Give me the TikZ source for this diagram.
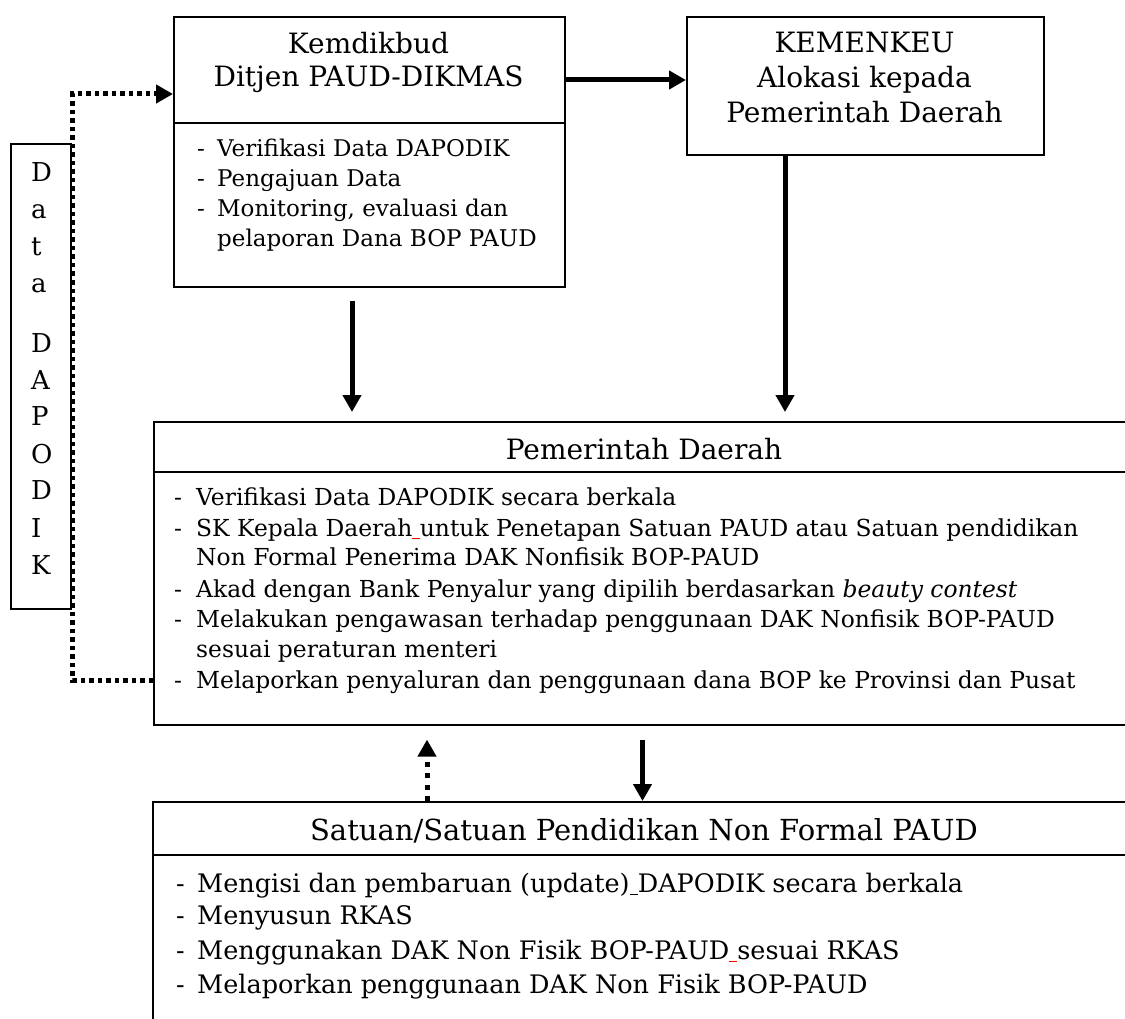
\documentclass[tikz,border=0pt]{standalone}
\usepackage{fontspec}
\setmainfont{DejaVu Serif}
\usetikzlibrary{arrows.meta}
\newcommand\gapline[1]{\textcolor{#1}{\rule[-3pt]{0.32em}{1.2pt}}}
\begin{document}
\begin{tikzpicture}[x=1pt,y=-1pt,
  box/.style={draw, line width=1.6pt, inner sep=0pt, anchor=north west},
  divl/.style={line width=1.6pt},
  ttl/.style={font=\fontsize{28}{34}\selectfont, inner sep=0pt, anchor=base},
  bul/.style={font=\fontsize{23.4}{30}\selectfont, inner sep=0pt, anchor=base west},
  sttl/.style={font=\fontsize{29}{34}\selectfont, inner sep=0pt, anchor=base},
  sbul/.style={font=\fontsize{25.5}{34}\selectfont, inner sep=0pt, anchor=base west},
  kbul/.style={font=\fontsize{23}{30}\selectfont, inner sep=0pt, anchor=base west},
  dapl/.style={font=\fontsize{26}{30}\selectfont, inner sep=0pt, anchor=base west},
  arr/.style={line width=5pt, -{Triangle[length=17pt,width=18pt]}},
  dotl/.style={line width=5pt, dash pattern=on 4.5pt off 4pt, -{Triangle[length=17pt,width=18pt]}},
  dashl/.style={line width=5pt, dash pattern=on 5pt off 6.5pt, -{Triangle[length=17pt,width=18pt]}}
]
\fill[white] (0,0) rectangle (1125,1019);
\useasboundingbox (0,0) rectangle (1125,1019);

% boxes
\node[box, minimum width=391pt, minimum height=270pt] (kem) at (173,16) {};
\node[box, minimum width=357pt, minimum height=138pt] (kmk) at (686,16) {};
\node[box, minimum width=982pt, minimum height=303pt] (pd) at (153,421) {};
\node[box, minimum width=984pt, minimum height=240pt] (sat) at (152,801) {};
\node[box, minimum width=60pt, minimum height=465pt] (dap) at (10,143) {};

% dividers
\coordinate (kemdiv) at (0,123);
\coordinate (pddiv) at (0,472);
\coordinate (satdiv) at (0,855);
\draw[divl] (kem.west |- kemdiv) -- (kem.east |- kemdiv);
\draw[divl] (pd.west |- pddiv) -- (pd.east |- pddiv);
\draw[divl] (sat.west |- satdiv) -- (sat.east |- satdiv);

% Kemdikbud texts
\node[ttl] (kemt1) at (368.5,54) {Kemdikbud};
\node[ttl] (kemt2) at (368.5,87) {Ditjen PAUD-DIKMAS};
\node[kbul] (kemb1) at (197,157) {\makebox[20pt][l]{-}Verifikasi Data DAPODIK};
\node[kbul] (kemb2) at (197,187) {\makebox[20pt][l]{-}Pengajuan Data};
\node[kbul] (kemb3) at (197,217) {\makebox[20pt][l]{-}Monitoring, evaluasi dan};
\node[kbul] (kemb4) at (217,247) {pelaporan Dana BOP PAUD};

% KEMENKEU texts
\node[ttl] (kmkt1) at (864.5,53) {KEMENKEU};
\node[ttl] (kmkt2) at (864.5,88) {Alokasi kepada};
\node[ttl] (kmkt3) at (864.5,123) {Pemerintah Daerah};

% Pemerintah Daerah texts
\node[ttl] (pdt) at (644,459) {Pemerintah Daerah};
\node[bul] (pdb1) at (174,505) {\makebox[22pt][l]{-}Verifikasi Data DAPODIK secara berkala};
\node[bul] (pdb2) at (174,536) {\makebox[22pt][l]{-}SK Kepala Daerah\gapline{red}untuk Penetapan Satuan PAUD atau Satuan pendidikan};
\node[bul] (pdb2b) at (196,565) {Non Formal Penerima DAK Nonfisik BOP-PAUD};
\node[bul] (pdb3) at (174,597) {\makebox[22pt][l]{-}Akad dengan Bank Penyalur yang dipilih berdasarkan \textit{beauty contest}};
\node[bul] (pdb4) at (174,627) {\makebox[22pt][l]{-}Melakukan pengawasan terhadap penggunaan DAK Nonfisik BOP-PAUD};
\node[bul] (pdb4b) at (196,657) {sesuai peraturan menteri};
\node[bul] (pdb5) at (174,688) {\makebox[22pt][l]{-}Melaporkan penyaluran dan penggunaan dana BOP ke Provinsi dan Pusat};

% Satuan texts
\node[sttl] (satt) at (644,840) {Satuan/Satuan Pendidikan Non Formal PAUD};
\node[sbul] (satb1) at (176,892) {\makebox[21pt][l]{-}Mengisi dan pembaruan (update)\gapline{black}DAPODIK secara berkala};
\node[sbul] (satb2) at (176,924) {\makebox[21pt][l]{-}Menyusun RKAS};
\node[sbul] (satb3) at (176,959) {\makebox[21pt][l]{-}Menggunakan DAK Non Fisik BOP-PAUD\gapline{red}sesuai RKAS};
\node[sbul] (satb4) at (176,993) {\makebox[21pt][l]{-}Melaporkan penggunaan DAK Non Fisik BOP-PAUD};

% Data DAPODIK vertical letters
\foreach \ch/\yy [count=\i] in {D/182,a/219,t/256,a/293,D/352,A/389,P/425,O/463,D/499,I/537,K/574}
  \node[dapl] (dapc\i) at (31,\yy) {\ch};

% connectors
\coordinate (ahy) at (0,80);
\coordinate (a1x) at (352,0);
\coordinate (a2x) at (785,0);
\coordinate (a3x) at (642.5,0);
\coordinate (a4x) at (427,0);
\coordinate (dx) at (72.5,0);
\coordinate (dy1) at (0,680);
\coordinate (dy2) at (0,94);

\draw[arr] (kem.east |- ahy) -- (kmk.west |- ahy);
\draw[arr] ([yshift=-13pt]kem.south -| a1x) -- ([yshift=9pt]pd.north -| a1x);
\draw[arr] (kmk.south -| a2x) -- ([yshift=9pt]pd.north -| a2x);
\draw[arr] ([yshift=-14pt]pd.south -| a3x) -- (sat.north -| a3x);
\draw[dashl] (sat.north -| a4x) -- ([yshift=-14pt]pd.south -| a4x);
\draw[dotl] (pd.west |- dy1) -- (dx |- dy1) -- (dx |- dy2) -- (kem.west |- dy2);
\end{tikzpicture}
\end{document}
